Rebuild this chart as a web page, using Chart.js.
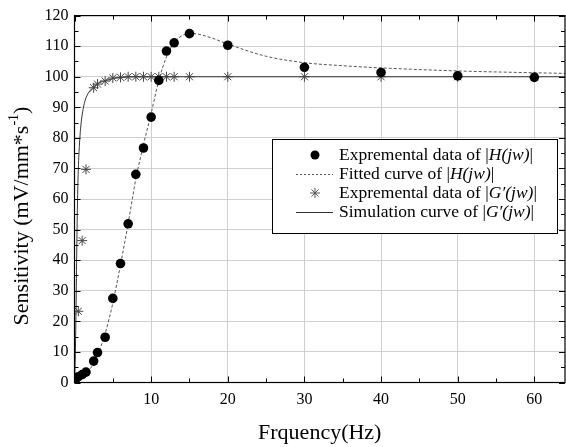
<!DOCTYPE html>
<html>
<head>
<meta charset="utf-8">
<script src="https://cdn.jsdelivr.net/npm/chart.js@4"></script>
<style>
  body { margin: 0; background: #fff; }
  canvas { display: block; }
</style>
</head>
<body>
<canvas id="sensChart" width="566" height="447"></canvas>
<script>
// measured |H(jw)| points
const hFreq = [0.2, 0.5, 1, 1.5, 2.5, 3, 4, 5, 6, 7, 8, 9, 10, 11, 12, 13, 15, 20, 30, 40, 50, 60];
const hSens = [1.3, 1.9, 2.6, 3.4, 7, 9.8, 14.8, 27.5, 38.9, 51.9, 68.1, 76.7, 86.8, 98.8, 108.4, 111.1, 114.1, 110.3, 103.1, 101.4, 100.3, 99.8];

// fitted curve of |H(jw)|
const fitFreq = [0, 1, 2, 3, 4, 5, 6, 7, 8, 9, 10, 11, 12, 13, 14, 15, 16, 18, 20, 25, 30, 35, 40, 50, 60, 64];
const fitSens = [0.8, 2, 4.3, 9, 16, 26, 38.5, 52, 66.5, 77.8, 88, 98.8, 106.5, 111.2, 113.4, 114.2, 114, 112.6, 110.7, 106.7, 104.6, 103.6, 102.9, 101.9, 101.3, 101.1];

// measured |G'(jw)| points
const gFreq = [0.5, 1, 1.5, 2.5, 3, 4, 5, 6, 7, 8, 9, 10, 11, 12, 13, 15, 20, 30, 40, 50, 60];
const gSens = [23.3, 46.4, 69.7, 96.4, 97.6, 98.6, 99.6, 99.8, 100, 100, 100, 100, 100, 100, 100, 100, 100, 100, 100, 100, 100];

// simulated |G'(jw)|
const simFreq = [0, 0.1, 0.2, 0.3, 0.4, 0.5, 0.65, 0.85, 1.15, 1.4, 1.9, 2.4, 3, 4, 5, 6, 8, 10, 64];
const simSens = [0, 8, 24, 44, 60, 70, 78, 84.5, 89.7, 92.4, 95, 96.5, 97.7, 98.7, 99.4, 99.8, 100, 100, 100];

// axis ranges
const xMin = 0, xMax = 64, xStep = 10;
const yMin = 0, yMax = 120, yStep = 10;

const toPoints = (xs, ys) => xs.map((x, i) => ({ x: x, y: ys[i] }));

const serif = "'Liberation Serif', 'Times New Roman', serif";
Chart.defaults.font.family = serif;
Chart.defaults.color = '#000';

// legend rows: marker kind, plain text, italic part, closing text
const legendRows = [
  { kind: 'dot', pre: 'Expremental data of |', it: 'H(jw)', post: '|' },
  { kind: 'dash', pre: 'Fitted curve of |', it: 'H(jw)', post: '|' },
  { kind: 'star', pre: 'Expremental data of |', it: 'G\u2032(jw)', post: '|' },
  { kind: 'line', pre: 'Simulation curve of |', it: 'G\u2032(jw)', post: '|' }
];

// frame, inward ticks, y title and legend box
const decorPlugin = {
  id: 'decor',
  afterDraw(chart) {
    const ctx = chart.ctx;
    const { left, right, top, bottom } = chart.chartArea;
    const xs = chart.scales.x, ys = chart.scales.y;
    ctx.save();

    // frame
    ctx.strokeStyle = '#000';
    ctx.lineWidth = 1.2;
    ctx.strokeRect(left, top, right - left, bottom - top);

    // ticks pointing inside on all four sides
    ctx.lineWidth = 1;
    ctx.beginPath();
    for (let v = xMin; v <= xMax; v += xStep / 2) {
      const px = Math.round(xs.getPixelForValue(v)) + 0.5;
      const len = v % xStep === 0 ? 6 : 4;
      ctx.moveTo(px, bottom); ctx.lineTo(px, bottom - len);
      ctx.moveTo(px, top); ctx.lineTo(px, top + len);
    }
    for (let v = yMin; v <= yMax; v += yStep / 2) {
      const py = Math.round(ys.getPixelForValue(v)) + 0.5;
      const len = v % yStep === 0 ? 6 : 4;
      ctx.moveTo(left, py); ctx.lineTo(left + len, py);
      ctx.moveTo(right, py); ctx.lineTo(right - len, py);
    }
    ctx.stroke();

    // y axis title with superscript
    ctx.fillStyle = '#000';
    ctx.textBaseline = 'middle';
    ctx.textAlign = 'left';
    const big = '22px ' + serif, small = '14px ' + serif;
    const main = 'Sensitivity (mV/mm*s', sup = '-1', close = ')';
    ctx.font = big;
    const wMain = ctx.measureText(main).width, wClose = ctx.measureText(close).width;
    ctx.font = small;
    const wSup = ctx.measureText(sup).width;
    ctx.translate(22, 216);
    ctx.rotate(-Math.PI / 2);
    let tx = -(wMain + wSup + wClose) / 2;
    ctx.font = big;
    ctx.fillText(main, tx, 0);
    tx += wMain;
    ctx.font = small;
    ctx.fillText(sup, tx, -8);
    tx += wSup;
    ctx.font = big;
    ctx.fillText(close, tx, 0);
    ctx.setTransform(1, 0, 0, 1, 0, 0);

    // legend
    const bx = 272, by = 139, bw = 285, bh = 94;
    ctx.fillStyle = '#fff';
    ctx.fillRect(bx, by, bw, bh);
    ctx.strokeStyle = '#000';
    ctx.lineWidth = 1;
    ctx.strokeRect(bx + 0.5, by + 0.5, bw, bh);
    const rowY = [155, 174, 193, 212];
    const fontSize = 17.5;
    legendRows.forEach((row, i) => {
      const y = rowY[i];
      ctx.strokeStyle = '#333';
      ctx.fillStyle = '#000';
      if (row.kind === 'dot') {
        ctx.beginPath();
        ctx.arc(315, y, 4.5, 0, Math.PI * 2);
        ctx.fill();
      } else if (row.kind === 'dash') {
        ctx.setLineDash([2, 2]);
        ctx.strokeStyle = '#555';
        ctx.beginPath();
        ctx.moveTo(296, y + 0.5); ctx.lineTo(333, y + 0.5);
        ctx.stroke();
        ctx.setLineDash([]);
      } else if (row.kind === 'star') {
        ctx.strokeStyle = '#555';
        Chart.helpers.drawPoint(ctx, { pointStyle: 'star', radius: 5, borderWidth: 1 }, 315, y);
      } else {
        ctx.beginPath();
        ctx.moveTo(296, y + 0.5); ctx.lineTo(333, y + 0.5);
        ctx.stroke();
      }
      let lx = 339;
      ctx.fillStyle = '#000';
      ctx.font = fontSize + 'px ' + serif;
      ctx.fillText(row.pre, lx, y);
      lx += ctx.measureText(row.pre).width;
      ctx.font = 'italic ' + fontSize + 'px ' + serif;
      ctx.fillText(row.it, lx, y);
      lx += ctx.measureText(row.it).width;
      ctx.font = fontSize + 'px ' + serif;
      ctx.fillText(row.post, lx, y);
    });
    ctx.restore();
  }
};

const whiteBg = {
  id: 'whiteBg',
  beforeDraw(chart) {
    const ctx = chart.ctx;
    ctx.save();
    ctx.fillStyle = '#fff';
    ctx.fillRect(0, 0, chart.width, chart.height);
    ctx.restore();
  }
};

new Chart(document.getElementById('sensChart'), {
  type: 'scatter',
  data: {
    datasets: [
      {
        label: 'Expremental data of |H(jw)|',
        data: toPoints(hFreq, hSens),
        pointStyle: 'circle',
        pointRadius: 4.8,
        backgroundColor: '#000',
        borderColor: '#000',
        borderWidth: 0,
        order: 1
      },
      {
        label: 'Fitted curve of |H(jw)|',
        data: toPoints(fitFreq, fitSens),
        showLine: true,
        pointRadius: 0,
        borderColor: '#555',
        borderWidth: 1,
        borderDash: [3, 2],
        cubicInterpolationMode: 'monotone',
        order: 3
      },
      {
        label: "Expremental data of |G'(jw)|",
        data: toPoints(gFreq, gSens),
        pointStyle: 'star',
        pointRadius: 5,
        borderColor: '#444',
        borderWidth: 1,
        order: 2
      },
      {
        label: "Simulation curve of |G'(jw)|",
        data: toPoints(simFreq, simSens),
        showLine: true,
        pointRadius: 0,
        borderColor: '#333',
        borderWidth: 1,
        cubicInterpolationMode: 'monotone',
        order: 4
      }
    ]
  },
  options: {
    responsive: false,
    animation: false,
    layout: { autoPadding: false, padding: { top: 15.5, right: 1, left: 0, bottom: 0 } },
    plugins: {
      legend: { display: false },
      tooltip: { enabled: false }
    },
    scales: {
      x: {
        type: 'linear',
        min: xMin,
        max: xMax,
        afterBuildTicks(scale) {
          scale.ticks = scale.ticks.filter(t => t.value % xStep === 0);
        },
        afterFit(scale) {
          scale.height = 64.5;
          scale.paddingLeft = 0;
          scale.paddingRight = 0;
        },
        ticks: {
          stepSize: xStep,
          padding: 8,
          font: { size: 16 },
          callback: v => (v === 0 ? '' : v)
        },
        grid: { color: '#cfcfcf', drawTicks: false },
        border: { display: false },
        title: {
          display: true,
          text: 'Frquency(Hz)',
          font: { size: 22 },
          padding: { top: 0, bottom: 1 }
        }
      },
      y: {
        type: 'linear',
        min: yMin,
        max: yMax,
        afterFit(scale) { scale.width = 74.5; },
        ticks: {
          stepSize: yStep,
          padding: 6,
          font: { size: 16 }
        },
        grid: { color: '#cfcfcf', drawTicks: false },
        border: { display: false }
      }
    }
  },
  plugins: [whiteBg, decorPlugin]
});
</script>
</body>
</html>
